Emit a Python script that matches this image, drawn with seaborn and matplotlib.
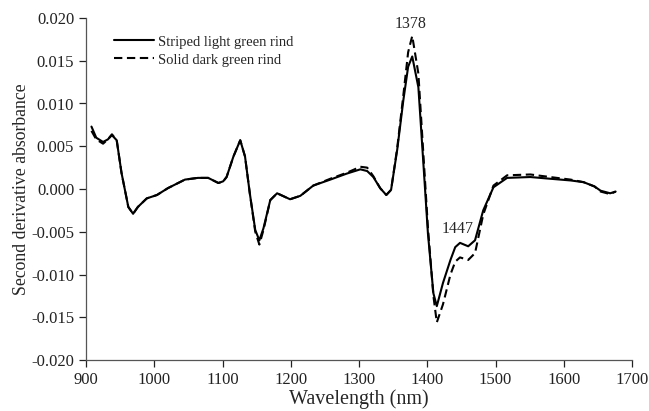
import matplotlib
matplotlib.use("Agg")
import matplotlib.pyplot as plt
import seaborn as sns
import pandas as pd

wavelength = [908, 915, 925, 932, 938, 945, 952, 962, 969, 976, 989, 1004, 1020, 1045,
              1064, 1079, 1094, 1101, 1106, 1116, 1126, 1133, 1140, 1148, 1154, 1160,
              1170, 1180, 1199, 1214, 1233, 1258, 1282, 1302, 1312, 1321, 1331, 1340,
              1347, 1356, 1365, 1372, 1378, 1387, 1394, 1401, 1409, 1414, 1423, 1434,
              1441, 1448, 1460, 1470, 1482, 1497, 1517, 1551, 1580, 1610, 1629, 1645,
              1654, 1668, 1676]

striped = [0.0073, 0.0060, 0.0055, 0.0058, 0.0063, 0.0057, 0.0019, -0.0021, -0.0029,
           -0.0021, -0.0011, -0.0007, 0.0001, 0.0011, 0.0013, 0.0013, 0.0007, 0.0009,
           0.0014, 0.0038, 0.0057, 0.0038, -0.0005, -0.0048, -0.0060, -0.0046, -0.0013,
           -0.0005, -0.0012, -0.0008, 0.0004, 0.0011, 0.0018, 0.0023, 0.0021, 0.0014,
           0.0001, -0.0007, -0.0001, 0.0046, 0.0104, 0.0143, 0.0155, 0.0119, 0.0034,
           -0.0052, -0.0122, -0.0137, -0.0110, -0.0083, -0.0068, -0.0063, -0.0067,
           -0.0060, -0.0025, 0.0002, 0.0013, 0.0014, 0.0012, 0.0010, 0.0008, 0.0003,
           -0.0002, -0.0005, -0.0003]

solid = [0.0068, 0.0058, 0.0053, 0.0058, 0.0064, 0.0057, 0.0019, -0.0021, -0.0029,
         -0.0021, -0.0011, -0.0007, 0.0001, 0.0011, 0.0013, 0.0013, 0.0007, 0.0009,
         0.0014, 0.0038, 0.0057, 0.0038, -0.0005, -0.0050, -0.0065, -0.0048, -0.0013,
         -0.0005, -0.0012, -0.0008, 0.0004, 0.0012, 0.0019, 0.0026, 0.0025, 0.0015,
         0.0001, -0.0007, -0.0001, 0.0048, 0.0110, 0.0160, 0.0179, 0.0135, 0.0045,
         -0.0045, -0.0125, -0.0156, -0.0135, -0.0100, -0.0085, -0.0080, -0.0083,
         -0.0075, -0.0030, 0.0004, 0.0016, 0.0017, 0.0014, 0.0011, 0.0008, 0.0003,
         -0.0003, -0.0006, -0.0003]

series_names = ["Striped light green rind", "Solid dark green rind"]
x_ticks = [900, 1000, 1100, 1200, 1300, 1400, 1500, 1600, 1700]
y_ticks = [-0.020, -0.015, -0.010, -0.005, 0.000, 0.005, 0.010, 0.015, 0.020]
peak_labels = ["1378", "1447"]

df = pd.concat([
    pd.DataFrame({"Wavelength": wavelength, "Value": striped, "Series": series_names[0]}),
    pd.DataFrame({"Wavelength": wavelength, "Value": solid, "Series": series_names[1]}),
])

sns.set_style("ticks")
plt.rcParams["font.family"] = ["Liberation Serif", "DejaVu Serif"]

fig = plt.figure(figsize=(6.49, 4.11), dpi=100)
ax = fig.add_axes([86 / 649, 1 - 360 / 411, (632 - 86) / 649, (360 - 18) / 411])

sns.lineplot(data=df, x="Wavelength", y="Value", style="Series",
             dashes={series_names[0]: "", series_names[1]: (4, 2.2)},
             color="black", linewidth=1.5, ax=ax, sort=False)

ax.set_xlim(900, 1700)
ax.set_ylim(-0.020, 0.020)
ax.set_xticks(x_ticks)
ax.set_yticks(y_ticks)
ax.set_yticklabels([f"{v:.3f}" for v in y_ticks])
ax.tick_params(direction="out", length=5, width=0.9, labelsize=12, colors="#222222")
for s in ["left", "bottom"]:
    ax.spines[s].set_color("#555555")
    ax.spines[s].set_linewidth(0.9)
sns.despine(ax=ax)

ax.set_xlabel("Wavelength (nm)", fontsize=14.5, labelpad=1)
ax.set_ylabel("Second derivative absorbance", fontsize=12.8, labelpad=1)

ax.text(1375, 0.0193, peak_labels[0], ha="center", va="center", fontsize=11.5)
ax.text(1444, -0.0047, peak_labels[1], ha="center", va="center", fontsize=11.5)

leg = ax.legend(loc="upper left", bbox_to_anchor=(0.035, 0.975), frameon=False,
                fontsize=10.5, handlelength=2.75, handletextpad=0.3, labelspacing=0.33,
                borderaxespad=0.2)

fig.savefig("out.png", dpi=100)
